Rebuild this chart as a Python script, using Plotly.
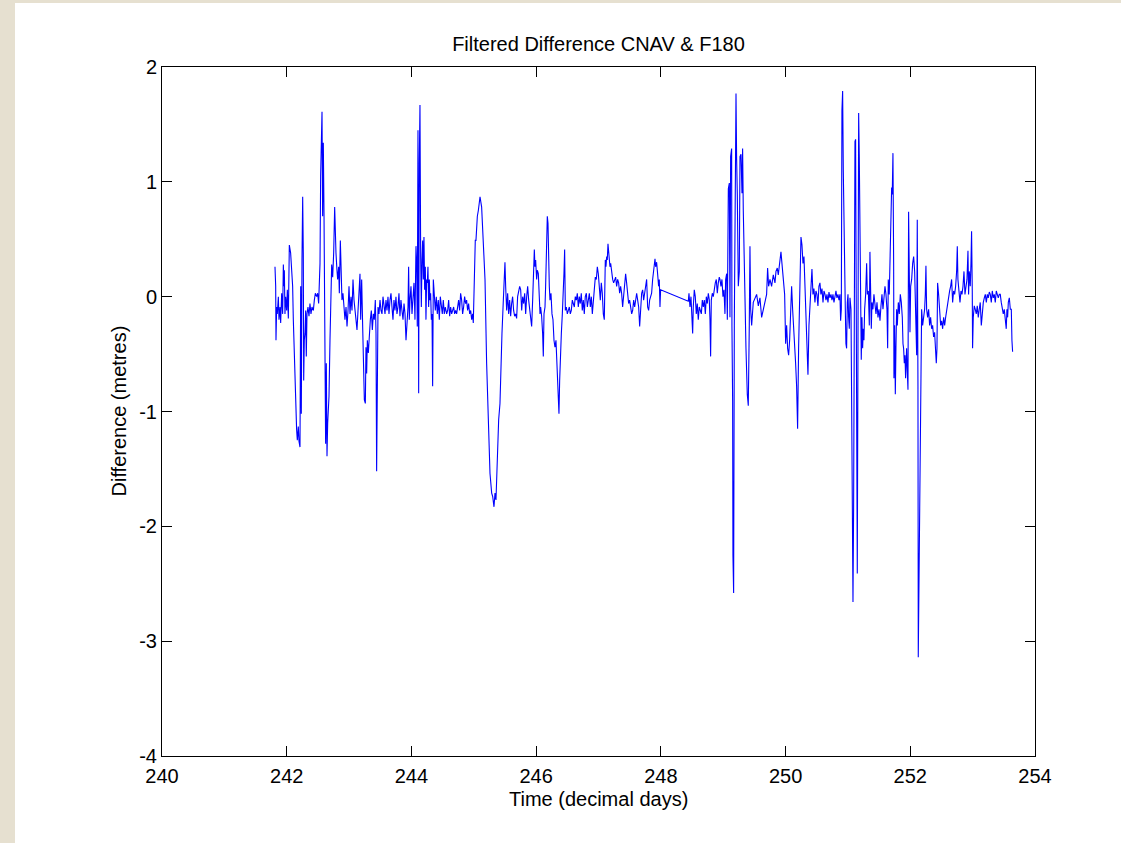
import plotly.graph_objects as go

# Filtered difference between the CNAV and F180 position solutions
# time in decimal days, difference in metres
T = [
    241.812, 241.823, 241.828, 241.839, 241.849, 241.866, 241.876, 241.892, 241.903, 241.919,
    241.935, 241.946, 241.956, 241.962, 241.972, 241.983, 241.999, 242.010, 242.026, 242.042,
    242.063, 242.079, 242.095, 242.106, 242.122, 242.133, 242.149, 242.159, 242.170, 242.186,
    242.197, 242.213, 242.224, 242.234, 242.245, 242.256, 242.266, 242.272, 242.282, 242.293,
    242.304, 242.314, 242.325, 242.341, 242.357, 242.373, 242.389, 242.405, 242.427, 242.443,
    242.459, 242.480, 242.496, 242.512, 242.523, 242.534, 242.544, 242.555, 242.566, 242.576,
    242.587, 242.598, 242.614, 242.624, 242.635, 242.646, 242.657, 242.667, 242.678, 242.694,
    242.710, 242.721, 242.737, 242.753, 242.769, 242.779, 242.790, 242.806, 242.817, 242.833,
    242.844, 242.860, 242.870, 242.886, 242.902, 242.918, 242.934, 242.951, 242.967, 242.983,
    242.999, 243.015, 243.031, 243.047, 243.063, 243.079, 243.095, 243.111, 243.127, 243.143,
    243.159, 243.175, 243.186, 243.202, 243.218, 243.234, 243.245, 243.261, 243.271, 243.282,
    243.293, 243.309, 243.325, 243.341, 243.357, 243.373, 243.389, 243.405, 243.421, 243.432,
    243.442, 243.453, 243.464, 243.480, 243.496, 243.512, 243.528, 243.544, 243.560, 243.576,
    243.592, 243.608, 243.624, 243.640, 243.656, 243.672, 243.688, 243.704, 243.720, 243.736,
    243.752, 243.768, 243.784, 243.800, 243.816, 243.832, 243.848, 243.865, 243.881, 243.897,
    243.913, 243.929, 243.945, 243.955, 243.966, 243.977, 243.993, 244.009, 244.025, 244.041,
    244.057, 244.073, 244.084, 244.094, 244.105, 244.116, 244.126, 244.137, 244.148, 244.159,
    244.169, 244.180, 244.191, 244.201, 244.212, 244.223, 244.233, 244.244, 244.255, 244.265,
    244.276, 244.287, 244.297, 244.308, 244.319, 244.330, 244.340, 244.351, 244.367, 244.383,
    244.399, 244.415, 244.431, 244.447, 244.463, 244.479, 244.495, 244.511, 244.527, 244.543,
    244.565, 244.581, 244.597, 244.613, 244.629, 244.645, 244.661, 244.677, 244.693, 244.709,
    244.725, 244.741, 244.757, 244.773, 244.789, 244.805, 244.821, 244.837, 244.853, 244.869,
    244.885, 244.901, 244.917, 244.934, 244.950, 244.966, 244.982, 244.992, 245.003, 245.014,
    245.024, 245.035, 245.046, 245.057, 245.073, 245.089,
    245.100, 245.126, 245.153, 245.180, 245.206, 245.233, 245.260, 245.287, 245.303, 245.324,
    245.340, 245.356, 245.367, 245.383, 245.399, 245.420, 245.436, 245.452, 245.474, 245.490,
    245.500, 245.511, 245.527, 245.543, 245.559, 245.575, 245.591, 245.607, 245.623, 245.639,
    245.655, 245.671, 245.687, 245.703, 245.720, 245.736, 245.752, 245.768, 245.784, 245.800,
    245.816, 245.832, 245.848, 245.864, 245.880, 245.896, 245.912, 245.928, 245.944, 245.960,
    245.971, 245.981, 245.992, 246.008, 246.019, 246.035, 246.051, 246.062, 246.072, 246.088,
    246.104, 246.115, 246.126, 246.142, 246.152, 246.168, 246.179, 246.190, 246.201, 246.211,
    246.222, 246.238, 246.254, 246.270, 246.286, 246.302, 246.318, 246.334, 246.350, 246.361,
    246.366, 246.377, 246.388, 246.404, 246.420, 246.436, 246.446, 246.457, 246.468, 246.484,
    246.500, 246.516, 246.532, 246.548, 246.564, 246.580, 246.596, 246.612, 246.628, 246.644,
    246.660, 246.676, 246.692, 246.708, 246.724, 246.740, 246.756, 246.772, 246.788, 246.805,
    246.821, 246.837, 246.853, 246.869, 246.885, 246.901, 246.917, 246.933, 246.949, 246.965,
    246.981, 246.997, 247.013, 247.029, 247.045, 247.061, 247.077, 247.093, 247.109, 247.120,
    247.131, 247.141, 247.152, 247.163, 247.173, 247.184, 247.195, 247.211, 247.227, 247.243,
    247.259, 247.275, 247.291, 247.307, 247.323, 247.339, 247.355, 247.371, 247.387, 247.403,
    247.419, 247.435, 247.451, 247.467, 247.483, 247.499, 247.515, 247.532, 247.548, 247.564,
    247.580, 247.596, 247.612, 247.628, 247.644, 247.660, 247.676, 247.692, 247.708, 247.724,
    247.740, 247.756, 247.772, 247.788, 247.804, 247.820, 247.836, 247.852, 247.868, 247.884,
    247.895, 247.906, 247.916, 247.932, 247.948, 247.964, 247.975, 247.986, 247.996,
    248.440, 248.451, 248.467, 248.483, 248.499, 248.510, 248.520, 248.536, 248.552, 248.568,
    248.584, 248.600, 248.616, 248.632, 248.649, 248.665, 248.681, 248.697, 248.713, 248.729,
    248.745, 248.761, 248.777, 248.788, 248.798, 248.809, 248.825, 248.841, 248.857, 248.873,
    248.889, 248.905, 248.921, 248.937, 248.948, 248.964, 248.980, 248.996, 249.012, 249.028,
    249.039, 249.055, 249.066, 249.076, 249.082,
    249.098, 249.108, 249.119, 249.135, 249.140, 249.151, 249.156, 249.167, 249.178, 249.194,
    249.205, 249.215, 249.226, 249.242, 249.258, 249.269, 249.285, 249.301, 249.311, 249.322,
    249.333, 249.349, 249.365, 249.386, 249.402, 249.418, 249.429, 249.440, 249.456, 249.482,
    249.509, 249.536, 249.563, 249.589, 249.616, 249.643, 249.670, 249.696, 249.712, 249.728,
    249.750, 249.776, 249.803, 249.830, 249.846, 249.867, 249.883, 249.899, 249.910, 249.926,
    249.942, 249.964, 249.985, 250.001, 250.017, 250.033, 250.049, 250.065, 250.081, 250.097,
    250.113, 250.129, 250.145, 250.161, 250.177, 250.193, 250.209, 250.225, 250.236, 250.247,
    250.263, 250.279, 250.295, 250.311, 250.327, 250.343, 250.359, 250.375, 250.391, 250.407,
    250.423, 250.439, 250.455, 250.471, 250.487, 250.503, 250.519, 250.535, 250.551, 250.567,
    250.584, 250.600, 250.616, 250.632, 250.648, 250.664, 250.680, 250.696, 250.712, 250.728,
    250.744, 250.760, 250.776, 250.792, 250.808, 250.824, 250.840, 250.856,
    250.872, 250.883, 250.894, 250.904, 250.915, 250.926, 250.936, 250.947, 250.958, 250.968,
    250.979, 250.990, 251.001, 251.011, 251.022, 251.033, 251.049, 251.059, 251.070, 251.081,
    251.091, 251.102, 251.113, 251.123, 251.129, 251.140, 251.150, 251.161, 251.172, 251.182,
    251.193, 251.204, 251.214, 251.225, 251.236, 251.246, 251.257, 251.268, 251.284, 251.300,
    251.311, 251.327, 251.343, 251.353, 251.364, 251.375, 251.385, 251.401, 251.417, 251.434,
    251.450, 251.466, 251.482, 251.498, 251.514, 251.530, 251.546, 251.562, 251.578, 251.594,
    251.610, 251.626, 251.637, 251.647, 251.663, 251.674, 251.690, 251.701, 251.711, 251.722,
    251.733, 251.738, 251.749, 251.760, 251.770, 251.781, 251.792, 251.808, 251.824, 251.840,
    251.856, 251.872, 251.883, 251.893, 251.904, 251.915, 251.925, 251.941, 251.952, 251.963,
    251.973, 251.984, 251.995, 252.006, 252.022, 252.038, 252.054, 252.070, 252.080, 252.091,
    252.102, 252.112, 252.123, 252.128, 252.139, 252.150, 252.160, 252.171, 252.182, 252.198,
    252.214, 252.230, 252.241, 252.251, 252.262, 252.278, 252.294, 252.310, 252.326, 252.342,
    252.358, 252.374, 252.390, 252.406, 252.417, 252.428, 252.438, 252.454, 252.470, 252.487,
    252.503, 252.519, 252.535, 252.551, 252.567, 252.583, 252.599, 252.615, 252.631, 252.647,
    252.663, 252.679, 252.695, 252.711, 252.727, 252.743, 252.754, 252.764, 252.780, 252.797,
    252.813, 252.829, 252.845, 252.861, 252.877, 252.893, 252.909, 252.925, 252.935, 252.946,
    252.962, 252.973, 252.983, 252.994, 252.999, 253.010, 253.026, 253.042, 253.058, 253.074,
    253.090, 253.106, 253.122, 253.139, 253.155, 253.171, 253.187, 253.203, 253.219, 253.235,
    253.251, 253.267, 253.283, 253.299, 253.315, 253.331, 253.347, 253.363, 253.379, 253.395,
    253.411, 253.427, 253.443, 253.459, 253.475, 253.491, 253.507, 253.523, 253.539, 253.550,
    253.561, 253.572, 253.588, 253.604, 253.620, 253.630, 253.641,
]

D = [
    0.26, 0.09, -0.38, -0.09, -0.15, 0.00, -0.20, -0.09, -0.23, 0.03,
    -0.15, 0.28, 0.09, 0.23, -0.15, 0.00, -0.12, 0.06, -0.19, 0.45,
    0.38, 0.23, 0.09, -0.20, -0.52, -0.78, -0.96, -1.16, -1.25, -1.13,
    -1.26, -1.31, 0.09, -1.02, 0.32, 0.87, 0.38, -0.73, -0.38, -0.32,
    -0.12, -0.52, -0.15, -0.09, -0.17, -0.06, -0.15, -0.09, -0.12, -0.03,
    0.03, 0.00, 0.03, -0.06, 0.09, 0.29, 1.05, 1.28, 1.61, 0.70,
    1.34, 0.73, -0.32, -1.28, -0.58, -1.39, -1.10, -1.02, -0.87, -0.38,
    0.03, 0.28, 0.17, 0.38, 0.78, 0.52, 0.38, 0.23, 0.15, 0.26,
    0.03, 0.49, 0.15, -0.03, 0.03, -0.15, -0.20, -0.09, -0.26, -0.12,
    0.09, -0.15, 0.00, -0.12, 0.15, -0.03, -0.15, -0.20, -0.29, -0.15,
    0.03, 0.20, -0.20, 0.15, -0.26, -0.67, -0.90, -0.93, -0.44, -0.67,
    -0.38, -0.49, -0.26, -0.20, -0.12, -0.29, -0.15, -0.20, -0.03, -0.32,
    -1.52, -0.32, -0.09, -0.15, -0.03, -0.12, -0.15, 0.00, -0.09, -0.15,
    -0.03, -0.12, 0.00, -0.15, -0.03, 0.03, -0.09, -0.20, -0.03, -0.12,
    0.00, -0.15, -0.09, 0.03, -0.17, -0.03, -0.12, -0.20, -0.06, -0.15,
    -0.38, -0.15, -0.09, 0.26, -0.20, -0.03, 0.09, -0.15, 0.00, 0.12,
    -0.20, 0.44, 0.29, -0.26, 1.45, -0.84, 1.16, 1.67, 0.35, -0.09,
    0.32, 0.49, 0.15, 0.52, 0.06, 0.26, -0.20, 0.15, 0.12, 0.26,
    -0.09, 0.15, -0.03, 0.03, -0.20, -0.15, -0.78, 0.15, 0.03, -0.12,
    0.00, -0.15, -0.03, -0.20, 0.00, -0.09, -0.15, -0.03, -0.15, -0.09,
    -0.15, -0.12, -0.03, -0.17, -0.09, -0.15, -0.12, -0.09, -0.15, -0.12,
    -0.15, -0.09, -0.03, -0.12, 0.03, -0.03, -0.15, -0.09, 0.00, -0.06,
    -0.03, -0.12, -0.06, -0.15, -0.12, -0.20, -0.15, -0.23, 0.15, 0.32,
    0.49, 0.49, 0.64, 0.70, 0.75, 0.81,
    0.87, 0.78, 0.52, 0.15, -0.58, -1.13, -1.54, -1.71, -1.74, -1.83,
    -1.71, -1.77, -1.54, -1.31, -1.07, -0.93, -0.52, -0.32, -0.03, 0.15,
    0.30, 0.09, -0.12, 0.03, -0.15, -0.03, -0.17, -0.06, 0.00, -0.12,
    -0.17, -0.15, -0.19, 0.00, 0.06, 0.09, 0.06, -0.12, 0.00, -0.06,
    0.03, -0.15, 0.00, 0.09, -0.03, -0.12, -0.20, -0.26, -0.03, 0.35,
    0.41, 0.26, 0.32, 0.15, 0.23, 0.20, 0.03, -0.15, -0.09, -0.17,
    -0.32, -0.52, -0.15, -0.09, 0.09, 0.38, 0.70, 0.64, 0.26, 0.09,
    -0.03, 0.03, -0.15, -0.20, -0.38, -0.44, -0.38, -0.58, -0.73, -0.90,
    -1.02, -0.73, -0.49, -0.32, -0.15, 0.03, 0.20, 0.41, -0.12, -0.09,
    -0.15, -0.12, -0.09, -0.15, -0.12, -0.03, -0.06, -0.09, 0.00, -0.03,
    0.03, -0.09, 0.00, -0.06, 0.03, -0.12, -0.03, -0.15, 0.00, 0.03,
    -0.09, -0.03, 0.03, -0.09, 0.00, -0.15, -0.03, 0.09, 0.17, 0.15,
    0.26, 0.20, 0.09, -0.03, 0.12, 0.03, -0.15, -0.20, 0.32, 0.26,
    0.35, 0.32, 0.46, 0.38, 0.32, 0.26, 0.29, 0.20, 0.15, 0.12,
    0.15, 0.17, 0.09, 0.15, 0.12, 0.03, 0.09, 0.03, -0.09, 0.03,
    0.15, 0.20, 0.12, 0.03, -0.06, -0.03, -0.09, -0.15, -0.12, -0.03,
    -0.09, 0.00, 0.03, -0.03, -0.09, -0.26, -0.03, 0.03, 0.06, -0.03,
    0.03, 0.09, 0.15, -0.09, -0.12, -0.03, 0.00, 0.03, 0.15, 0.26,
    0.32, 0.33, 0.26, 0.30, 0.20, 0.09, 0.15, -0.09, 0.06,
    -0.04, 0.03, -0.09, 0.00, -0.15, -0.32, -0.09, 0.06, 0.00, -0.15,
    -0.06, -0.20, -0.09, -0.12, -0.15, -0.03, -0.09, -0.03, -0.15, 0.00,
    -0.06, 0.03, -0.03, -0.20, -0.52, -0.03, 0.03, 0.00, 0.09, 0.12,
    0.15, 0.03, 0.12, 0.17, 0.15, 0.09, 0.15, 0.00, 0.06, -0.15,
    0.15, 0.20, -0.20, 0.73, 0.94,
    0.99, -0.18, 1.22, 1.29, -0.25, -0.91, -2.25, -2.58, -0.25, 1.60,
    1.77, 1.20, 0.89, 0.09, 0.22, 1.22, 1.24, 0.90, 1.29, 0.75,
    0.45, -0.28, -0.45, -0.85, -0.95, -0.25, 0.44, -0.11, -0.25, -0.05,
    -0.01, 0.02, -0.08, -0.01, -0.18, -0.11, -0.05, 0.02, 0.25, 0.09,
    0.15, 0.09, 0.19, 0.12, 0.22, 0.25, 0.19, 0.29, 0.35, 0.39,
    0.29, 0.15, 0.02, -0.41, -0.25, -0.45, -0.51, -0.38, -0.11, 0.09,
    -0.11, -0.25, -0.38, -0.58, -0.78, -1.15, -0.45, -0.11, 0.25, 0.52,
    0.45, 0.29, 0.35, 0.09, -0.11, -0.38, -0.68, -0.25, -0.08, -0.01,
    0.24, 0.02, 0.07, -0.05, 0.05, 0.02, -0.08, 0.09, 0.12, 0.02,
    0.07, -0.05, 0.05, 0.02, -0.03, 0.02, -0.05, 0.04, -0.01, 0.02,
    -0.03, 0.02, -0.05, 0.00, 0.05, -0.01, 0.02, -0.03,
    0.02, -0.21, -0.11, 1.62, 1.79, 1.09, 0.52, 0.09, -0.11, -0.41,
    -0.45, -0.05, 0.02, -0.18, -0.28, -0.01, -0.11, -0.88, -1.85, -2.66,
    -1.85, 0.45, 1.35, 1.37, -0.11, -1.88, -2.41, -0.45, 1.60, 1.22,
    0.64, 0.05, -0.55, -0.18, -0.45, -0.28, -0.38, -0.11, 0.02, 0.29,
    0.02, 0.05, -0.25, 0.39, 0.02, -0.28, -0.05, -0.11, 0.02, -0.08,
    -0.15, -0.05, -0.18, -0.11, -0.21, -0.08, 0.02, -0.11, 0.05, 0.09,
    0.02, -0.11, -0.45, 0.15, 0.02, 0.32, 0.59, 0.95, 0.89, 1.25,
    0.29, -0.71, -0.25, -0.85, -0.45, -0.11, -0.25, -0.05, -0.15, 0.02,
    -0.05, -0.18, -0.41, -0.45, -0.58, -0.51, -0.71, -0.45, -0.65, -0.81,
    0.74, 0.02, -0.31, 0.09, 0.15, 0.29, 0.35, 0.22, 0.02, -0.31,
    -0.51, 0.67, -0.78, -3.14, -2.51, -1.95, -1.41, -0.45, -0.11, -0.25,
    -0.18, -0.11, 0.02, 0.27, -0.11, -0.18, -0.11, -0.25, -0.18, -0.28,
    -0.25, -0.35, -0.31, -0.45, -0.58, -0.45, 0.12, 0.02, -0.18, -0.25,
    -0.21, -0.28, -0.18, -0.25, -0.18, -0.11, -0.08, 0.02, 0.05, 0.09,
    0.15, -0.05, 0.05, 0.02, 0.09, 0.22, 0.44, 0.15, 0.02, -0.05,
    0.05, 0.02, 0.09, 0.22, 0.02, 0.09, 0.15, 0.40, 0.02, 0.22,
    0.09, 0.29, 0.57, 0.05, -0.45, -0.18, -0.08, -0.11, -0.15, -0.08,
    -0.18, -0.11, -0.05, -0.25, -0.11, -0.05, -0.01, 0.02, -0.05, 0.02,
    -0.01, 0.04, 0.02, -0.05, 0.05, -0.01, 0.02, -0.05, 0.05, 0.02,
    -0.01, 0.02, 0.02, -0.05, -0.11, -0.15, -0.11, -0.21, -0.28, -0.11,
    -0.18, -0.05, -0.01, -0.11, -0.11, -0.38, -0.48,
]

X_TICKS = [240, 242, 244, 246, 248, 250, 252, 254]
Y_TICKS = [-4, -3, -2, -1, 0, 1, 2]

TITLE = "Filtered Difference CNAV &amp; F180"
X_LABEL = "Time (decimal days)"
Y_LABEL = "Difference (metres)"

FONT = "Liberation Sans, Arial, Helvetica, sans-serif"
FONT_SIZE = 20
BEIGE = "#E6E0D0"

fig = go.Figure(
    go.Scatter(
        x=T, y=D, mode="lines",
        line=dict(color="#0000FF", width=1.1),
        hoverinfo="skip", showlegend=False,
    )
)

axis_common = dict(
    showgrid=False, zeroline=False,
    showline=True, linecolor="black", linewidth=1, mirror="ticks",
    ticks="inside", ticklen=10, tickwidth=1, tickcolor="black",
    tickfont=dict(family=FONT, size=FONT_SIZE, color="black"),
)

fig.update_xaxes(range=[240, 254], tickvals=X_TICKS, ticktext=[str(v) for v in X_TICKS],
                 ticklabelstandoff=2, **axis_common)
fig.update_yaxes(range=[-4, 2], tickvals=Y_TICKS, ticktext=[str(v) for v in Y_TICKS],
                 **axis_common)

fig.update_layout(
    width=1121, height=843, autosize=False,
    margin=dict(l=162, r=86, t=67, b=87),
    paper_bgcolor="white", plot_bgcolor="white",
    title=dict(
        text=TITLE, x=(598.5 / 1121), xanchor="center", y=1 - 44 / 843, yanchor="middle",
        font=dict(family=FONT, size=FONT_SIZE, color="black"),
    ),
    annotations=[
        dict(text=X_LABEL, xref="paper", yref="paper", x=0.5, y=-43 / 689,
             xanchor="center", yanchor="middle", showarrow=False,
             font=dict(family=FONT, size=FONT_SIZE, color="black")),
        dict(text=Y_LABEL, xref="paper", yref="paper", x=-44 / 873, y=0.5,
             xanchor="center", yanchor="middle", textangle=-90, showarrow=False,
             font=dict(family=FONT, size=FONT_SIZE, color="black")),
    ],
    shapes=[
        # textured frame strips along the left and top edges of the figure
        dict(type="rect", xref="paper", yref="paper", layer="below",
             x0=-162 / 873, x1=(15 - 162) / 873, y0=-87 / 689, y1=756 / 689,
             line=dict(width=0), fillcolor=BEIGE),
        dict(type="rect", xref="paper", yref="paper", layer="below",
             x0=-162 / 873, x1=959 / 873, y0=753 / 689, y1=756 / 689,
             line=dict(width=0), fillcolor=BEIGE),
    ],
)

fig.write_html("out.html")
